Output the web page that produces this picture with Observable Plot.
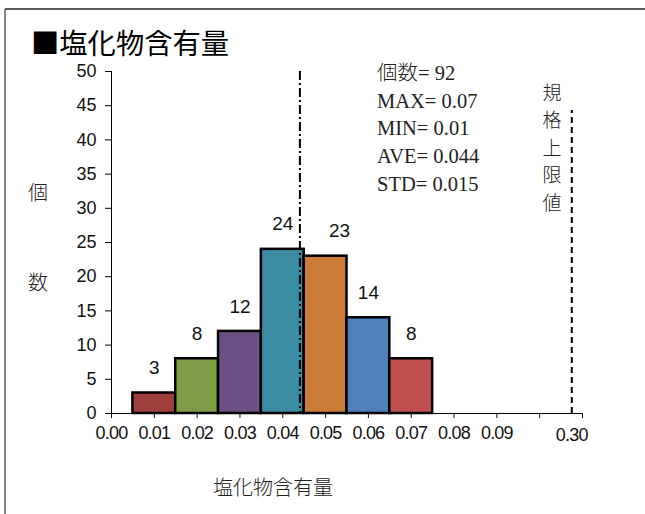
<!DOCTYPE html>
<html>
<head>
<meta charset="utf-8">
<script src="https://cdn.jsdelivr.net/npm/d3@7"></script>
<script src="https://cdn.jsdelivr.net/npm/@observablehq/plot@0.6"></script>
<style>
  html, body { margin: 0; padding: 0; background: #fff; }
  #chart { position: relative; width: 645px; height: 514px; overflow: hidden; }
  #chart svg g[aria-label="x-axis tick label"] text { letter-spacing: -0.8px; }
</style>
</head>
<body>
<div id="chart"></div>
<script>
// ---- data ----
const chartTitle = "■塩化物含有量";
const xTitle = "塩化物含有量";
const yTitle = ["個", "数"];
const binCenters = [0.01, 0.02, 0.03, 0.04, 0.05, 0.06, 0.07];
const counts = [3, 8, 12, 24, 23, 14, 8];
const binColors = ["#A0403E", "#7F9C46", "#6A5086", "#3C8CA3", "#CD7C38", "#4F80BC", "#C0504D"];
const binWidth = 0.01;
const labelShift = [0, 0, 0, 0, 14, 0, 0];
const xTickValues = [0, 0.01, 0.02, 0.03, 0.04, 0.05, 0.06, 0.07, 0.08, 0.09, 0.10, 0.11];
const xTickLabels = ["0.00", "0.01", "0.02", "0.03", "0.04", "0.05", "0.06", "0.07", "0.08", "0.09", "", ""];
const yTickValues = [0, 5, 10, 15, 20, 25, 30, 35, 40, 45, 50];
const averageValue = 0.044;
const specLimitPos = 0.1075;
const specLimitLabel = "0.30";
const specLineTop = 44.3;
const specText = ["規", "格", "上", "限", "値"];
const statsLabels = ["個数", "MAX", "MIN", "AVE", "STD"];
const statsValues = ["92", "0.07", "0.01", "0.044", "0.015"];

const bins = binCenters.map((c, i) => ({
  x1: c - binWidth / 2, x2: c + binWidth / 2, xc: c,
  count: counts[i], color: binColors[i], shift: labelShift[i]
}));

const sansFont = "'Liberation Sans', Arial, sans-serif";
const serifFont = "'Liberation Serif', 'Times New Roman', serif";
const cjkFont = "'Noto Sans CJK JP', sans-serif";

const plot = Plot.plot({
  width: 645,
  height: 514,
  marginLeft: 111,
  marginRight: 63,
  marginTop: 71,
  marginBottom: 101,
  style: { fontFamily: sansFont, background: "transparent", overflow: "visible" },
  x: { type: "linear", domain: [0, 0.11] },
  y: { domain: [0, 50] },
  marks: [
    Plot.rect(bins, {
      x1: "x1", x2: "x2", y1: 0, y2: "count",
      fill: "color", stroke: "#000", strokeWidth: 2.5
    }),
    ...bins.map(b => Plot.text([b], {
      x: "xc", y: "count", text: d => String(d.count),
      dy: -25, dx: b.shift, fontSize: 19, fill: "#111", fontFamily: sansFont
    })),
    Plot.ruleX([averageValue], {
      stroke: "#000", strokeWidth: 2, strokeDasharray: "9,3,2,3"
    }),
    Plot.ruleX([specLimitPos], {
      y1: 0, y2: specLineTop,
      stroke: "#000", strokeWidth: 2, strokeDasharray: "6,4"
    }),
    Plot.ruleY([0], { stroke: "#000", strokeWidth: 1 }),
    Plot.ruleX([0], { stroke: "#000", strokeWidth: 1 }),
    Plot.axisY({
      ticks: yTickValues, tickSize: 6, tickPadding: 9,
      label: null, fontSize: 18, stroke: "#000", color: "#111"
    }),
    Plot.axisX({
      ticks: xTickValues, tickSize: 5, tickPadding: 8,
      tickFormat: (d, i) => xTickLabels[i],
      label: null, fontSize: 18, color: "#111"
    }),
    Plot.axisX({
      ticks: [specLimitPos], tickSize: 0, tickPadding: 15,
      tickFormat: () => specLimitLabel,
      label: null, fontSize: 18, color: "#111"
    })
  ]
});

document.getElementById("chart").appendChild(plot);

// ---- non-data annotations ----
const svg = d3.select(plot);

// frame border (top and left)
svg.append("line").attr("x1", 5).attr("x2", 645).attr("y1", 9).attr("y2", 9)
  .attr("stroke", "#222").attr("stroke-width", 1.3);
svg.append("line").attr("x1", 5).attr("x2", 5).attr("y1", 9).attr("y2", 514)
  .attr("stroke", "#444").attr("stroke-width", 1.3);

// title
svg.append("text").text(chartTitle)
  .attr("x", 31).attr("y", 54)
  .attr("text-anchor", "start")
  .attr("font-family", cjkFont).attr("font-size", 28.3).attr("font-weight", 400)
  .attr("fill", "#000");

// stats
statsLabels.forEach((lab, i) => {
  const t = svg.append("text")
    .attr("x", 377).attr("y", 73 + i * 27.6).attr("dy", "0.35em")
    .attr("text-anchor", "start")
    .attr("font-size", 20.5).attr("font-weight", "normal")
    .attr("fill", "#222");
  const isCjk = /[^\x00-\x7F]/.test(lab);
  t.append("tspan").text(lab)
    .attr("font-family", isCjk ? cjkFont : serifFont)
    .attr("font-weight", isCjk ? 300 : "normal");
  t.append("tspan").text("= " + statsValues[i])
    .attr("font-family", serifFont);
});

// spec label (vertical)
specText.forEach((t, i) => {
  svg.append("text").text(t)
    .attr("x", 552).attr("y", 93 + i * 27.5).attr("dy", "0.35em")
    .attr("text-anchor", "middle")
    .attr("font-family", cjkFont).attr("font-size", 19).attr("font-weight", 300)
    .attr("fill", "#222");
});

// y title
yTitle.forEach((t, i) => {
  svg.append("text").text(t)
    .attr("x", 38).attr("y", 193 + i * 90).attr("dy", "0.35em")
    .attr("text-anchor", "middle")
    .attr("font-family", cjkFont).attr("font-size", 20).attr("font-weight", 300)
    .attr("fill", "#222");
});

// x title
svg.append("text").text(xTitle)
  .attr("x", 273).attr("y", 488).attr("dy", "0.35em")
  .attr("text-anchor", "middle")
  .attr("font-family", cjkFont).attr("font-size", 20).attr("font-weight", 300)
  .attr("fill", "#222");
</script>
</body>
</html>
